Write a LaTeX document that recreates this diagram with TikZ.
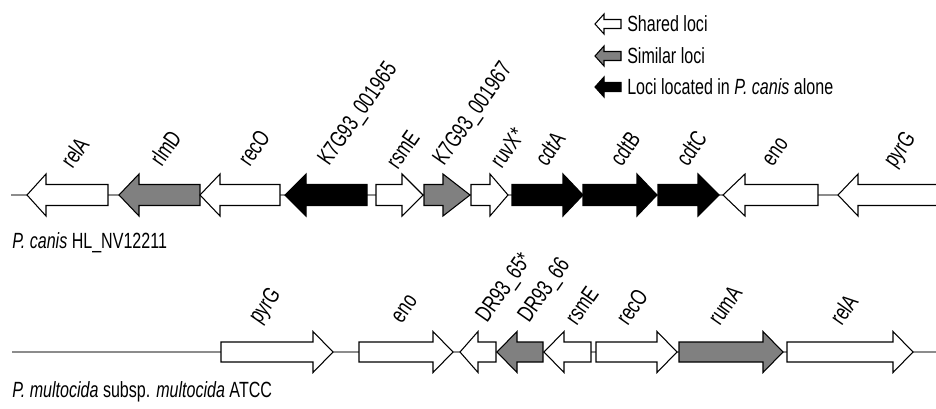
\documentclass[tikz,border=0pt]{standalone}
\usepackage{fontspec}
\setmainfont{Liberation Sans}[FakeStretch=0.73]
\usepackage{tikz}
\usetikzlibrary{positioning,calc}
\definecolor{similargray}{RGB}{128,128,128}
\definecolor{backbonegray}{RGB}{140,140,140}

% locus arrow: style, tail x, head base x, tip x, y, half body, half head
\newcommand{\locus}[7]{%
  \draw[#1] (#2,#5-#6) -- (#3,#5-#6) -- (#3,#5-#7) -- (#4,#5)
    -- (#3,#5+#7) -- (#3,#5+#6) -- (#2,#5+#6) -- cycle;}

\tikzset{
  shared/.style={draw=black, line width=0.8pt, fill=white},
  similar/.style={draw=black, line width=0.8pt, fill=similargray},
  alone/.style={draw=black, line width=0.8pt, fill=black},
  backbone/.style={draw=backbonegray, line width=0.9pt},
  genelabel/.style={rotate=55, anchor=south west, inner sep=0pt,
    font=\fontsize{17.5}{20}\selectfont},
  plainlabel/.style={anchor=west, inner sep=0pt}
}

\begin{document}
\begin{tikzpicture}[x=0.75pt, y=-0.75pt, font=\fontsize{16.5}{19}\selectfont]
    \useasboundingbox (0,0) rectangle (936,408);

    % Legend
    \locus{shared}{621}{604}{595}{24}{4.5}{10}
    \locus{similar}{621}{604}{595}{56}{4.5}{10}
    \locus{alone}{621}{604}{595}{87}{4.5}{10}
    \node[plainlabel] (legShared) at (627,24) {Shared loci};
    \node[plainlabel] (legSimilar) at (627,56) {Similar loci};
    \node[plainlabel] (legAlone) at (627,87) {Loci located in \textit{P. canis} alone};

    % P. canis backbone
    \coordinate (canisL) at (11,195);
    \coordinate (canisR) at (936,195);
    \draw[backbone] (canisL) -- (canisR);

    % P. canis loci
    \locus{shared}{108}{46}{27}{195}{10.5}{21}
    \locus{similar}{200}{139}{119}{195}{10.5}{21}
    \locus{shared}{280}{220}{200}{195}{10.5}{21}
    \locus{alone}{367}{306}{285}{195}{10.5}{21}
    \locus{shared}{376}{402}{423}{195}{10.5}{21}
    \locus{similar}{424}{443}{470}{195}{10.5}{21}
    \locus{shared}{471}{490}{508}{195}{10.5}{21}
    \locus{alone}{512}{563}{583}{195}{10.5}{21}
    \locus{alone}{583}{637}{657}{195}{10.5}{21}
    \locus{alone}{658}{698}{719}{195}{10.5}{21}
    \locus{shared}{818}{745}{723}{195}{10.5}{21}
    \locus{shared}{937}{858}{838}{195}{10.5}{21}

    % P. canis labels
    \node[genelabel] (cRelA) at (73,170) {relA};
    \node[genelabel] (cRlmD) at (162,168) {rlmD};
    \node[genelabel] (cRecO) at (250,168) {recO};
    \node[genelabel] (cK65) at (333,170) {K7G93\_001965};
    \node[genelabel] (cRsmE) at (398,171) {rsmE};
    \node[genelabel] (cK67) at (448,170) {K7G93\_001967};
    \node[genelabel] (cRuvX) at (502,170) {ruvX*};
    \node[genelabel] (cCdtA) at (547,168) {cdtA};
    \node[genelabel] (cCdtB) at (622,168) {cdtB};
    \node[genelabel] (cCdtC) at (688,168) {cdtC};
    \node[genelabel] (cEno) at (773,168) {eno};
    \node[genelabel] (cPyrG) at (899,172) {pyrG};
    \node[plainlabel] (canisName) at (12,243) {\textit{P. canis} HL\_NV12211};

    % P. multocida backbone
    \coordinate (multoL) at (12,352);
    \coordinate (multoR) at (936,352);
    \draw[backbone] (multoL) -- (multoR);

    % P. multocida loci
    \locus{shared}{221}{313}{333}{352}{10}{20.5}
    \locus{shared}{359}{433}{453}{352}{10}{20.5}
    \locus{shared}{496}{478}{460}{352}{10}{20.5}
    \locus{similar}{543}{517}{497}{352}{10}{20.5}
    \locus{shared}{591}{564}{544}{352}{10}{20.5}
    \locus{shared}{596}{657}{677}{352}{10}{20.5}
    \locus{similar}{679}{763}{783}{352}{10}{20.5}
    \locus{shared}{787}{893}{913}{352}{10}{20.5}

    % P. multocida labels
    \node[genelabel] (mPyrG) at (264,328) {pyrG};
    \node[genelabel] (mEno) at (402,325) {eno};
    \node[genelabel] (mDR65) at (491,327) {DR93\_65*};
    \node[genelabel] (mDR66) at (533,327) {DR93\_66};
    \node[genelabel] (mRsmE) at (577,327) {rsmE};
    \node[genelabel] (mRecO) at (628,327) {recO};
    \node[genelabel] (mRumA) at (720,327) {rumA};
    \node[genelabel] (mRelA) at (842,327) {relA};
    \node[plainlabel] (multoName) at (12,392) {\textit{P. multocida} subsp. \textit{multocida} ATCC};
\end{tikzpicture}
\end{document}
